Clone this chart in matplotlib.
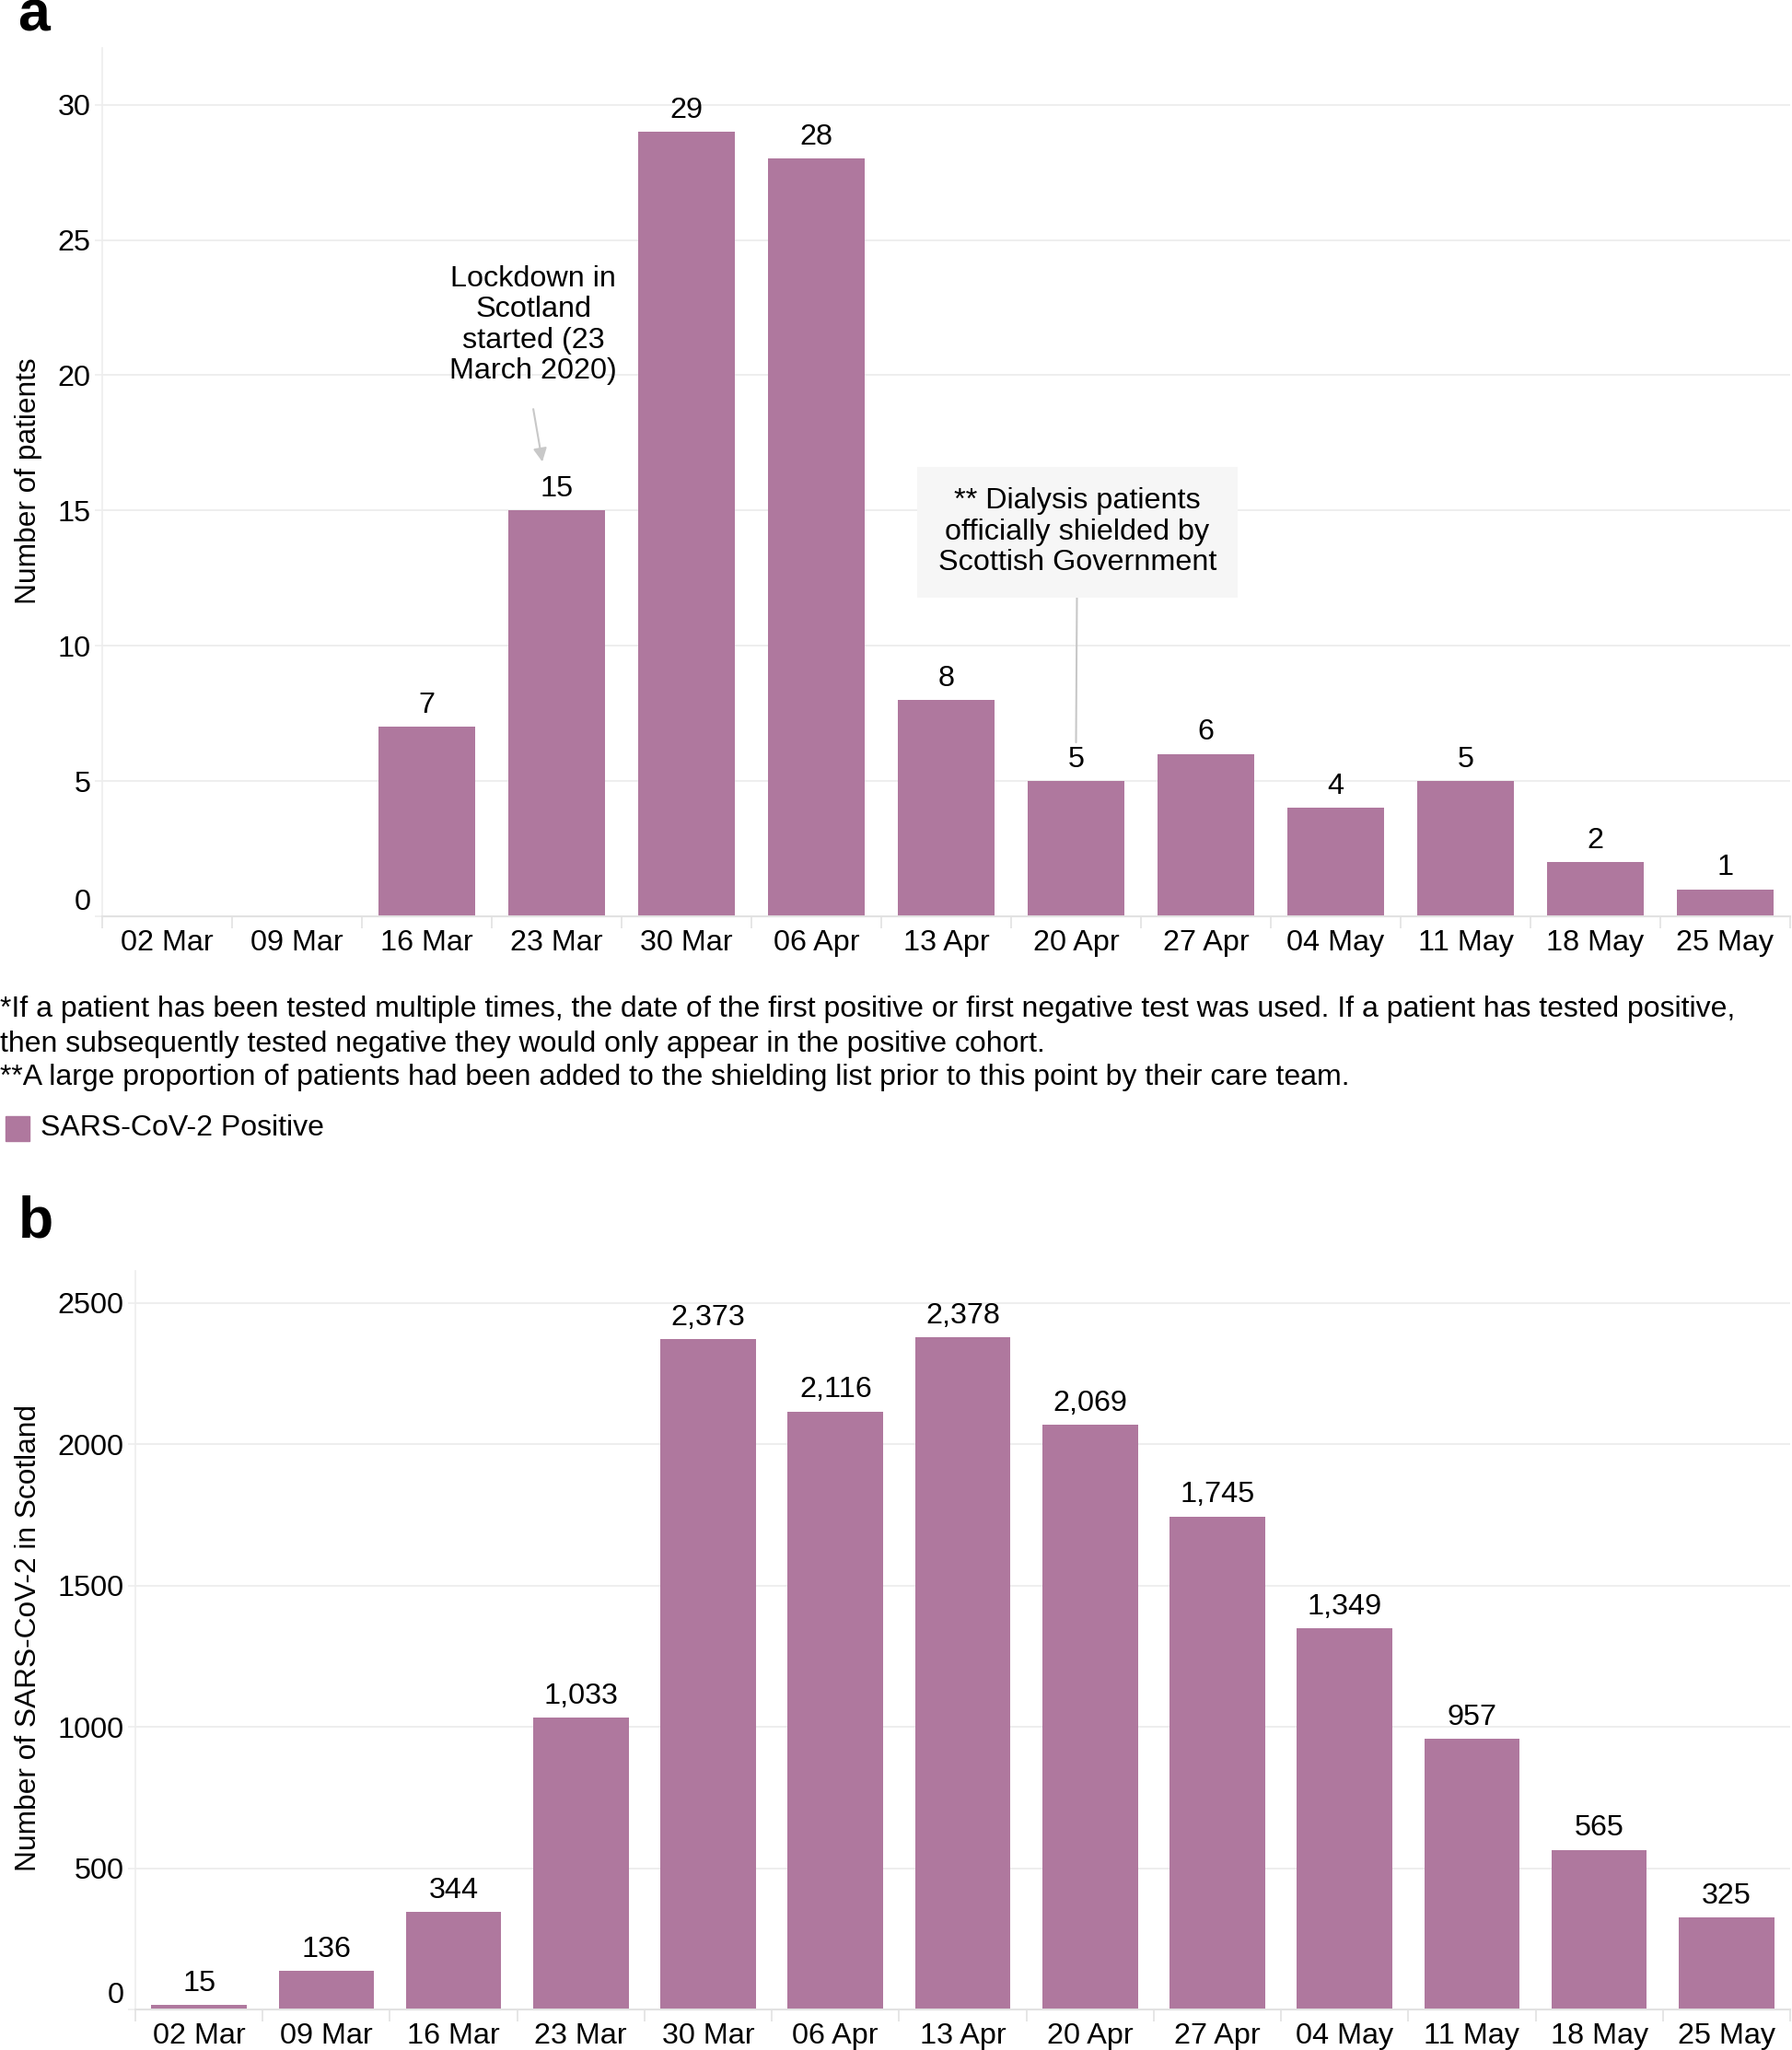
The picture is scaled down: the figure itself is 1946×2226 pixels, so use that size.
import matplotlib
matplotlib.use("Agg")
import matplotlib.pyplot as plt
from matplotlib.transforms import ScaledTranslation

plt.rcParams['font.family'] = ['Liberation Sans', 'DejaVu Sans']

weeks = ["02 Mar", "09 Mar", "16 Mar", "23 Mar", "30 Mar", "06 Apr", "13 Apr",
         "20 Apr", "27 Apr", "04 May", "11 May", "18 May", "25 May"]
patients_positive = [0, 0, 7, 15, 29, 28, 8, 5, 6, 4, 5, 2, 1]
scotland_positive = [15, 136, 344, 1033, 2373, 2116, 2378, 2069, 1745, 1349, 957, 565, 325]
yticks_a = [0, 5, 10, 15, 20, 25, 30]
yticks_b = [0, 500, 1000, 1500, 2000, 2500]

BAR = '#AF789E'
GRID = '#EDEDED'
AXC = '#E2E2E2'
FS = 23.3

W, H = 1946, 2226
fig = plt.figure(figsize=(W / 100, H / 100), dpi=100)


def box(l, t, r, b):
    return [l / W, 1 - b / H, (r - l) / W, (b - t) / H]


def style(ax, ylim, yticks):
    x = list(range(len(weeks)))
    ax.set_xlim(-0.5, len(weeks) - 0.5)
    ax.set_ylim(*ylim)
    ax.set_xticks(x)
    ax.set_xticklabels(weeks, fontsize=FS)
    ax.set_xticks([i - 0.5 for i in range(len(weeks) + 1)], minor=True)
    ax.tick_params(axis='x', which='major', length=0, pad=10)
    ax.tick_params(axis='x', which='minor', length=9, color=AXC, width=1.2)
    ax.set_yticks(yticks)
    ax.set_yticklabels([str(v) for v in yticks], fontsize=FS)
    ax.tick_params(axis='y', length=6, color=GRID, width=1.2, pad=3)
    for s in ['top', 'right']:
        ax.spines[s].set_visible(False)
    ax.spines['left'].set_color(GRID)
    ax.spines['left'].set_linewidth(1.2)
    ax.spines['bottom'].set_color(AXC)
    ax.spines['bottom'].set_linewidth(1.5)
    ax.grid(axis='y', color=GRID, linewidth=1.3)
    ax.set_axisbelow(True)
    # raise the zero label slightly, as in the reference
    lab = ax.yaxis.get_major_ticks()[0].label1
    lab.set_transform(lab.get_transform() + ScaledTranslation(0, 13 / 72, fig.dpi_scale_trans))
    return x


# ---------------- panel a ----------------
axa = fig.add_axes(box(111, 52, 1944, 995))
xa = style(axa, (0, 32.1), yticks_a)
axa.bar(xa, patients_positive, width=0.75, color=BAR)
for xi, v in zip(xa, patients_positive):
    if v > 0:
        axa.annotate(str(v), (xi, v), xytext=(0, 6), textcoords='offset points',
                     ha='center', va='bottom', fontsize=FS)

axa.text(2.82, 21.85, "Lockdown in\nScotland\nstarted (23\nMarch 2020)",
         ha='center', va='center', fontsize=FS, linespacing=1.15)
axa.annotate("", xy=(2.89, 16.8), xytext=(2.82, 18.75), textcoords='data',
             arrowprops=dict(arrowstyle='-|>', color='#C8C8C8', lw=1.5,
                             mutation_scale=22, shrinkA=0, shrinkB=0))

axa.annotate("** Dialysis patients\nofficially shielded by\nScottish Government",
             xy=(7.0, 6.43), xytext=(7.01, 14.2), textcoords='data',
             ha='center', va='center', fontsize=FS, linespacing=1.15,
             bbox=dict(boxstyle='square,pad=0.7', fc='#F6F6F6', ec='none'),
             arrowprops=dict(arrowstyle='-', color='#C8C8C8', lw=1.5,
                             shrinkA=0, shrinkB=0))

fig.text(31 / W, 1 - 522 / H, "Number of patients", rotation=90,
         ha='center', va='center', fontsize=22.8)
fig.text(19 / W, 1 - 33 / H, "a", ha='left', va='baseline', fontsize=45,
         fontweight='bold')

notes = ["*If a patient has been tested multiple times, the date of the first positive or first negative test was used. If a patient has tested positive,",
         "then subsequently tested negative they would only appear in the positive cohort.",
         "**A large proportion of patients had been added to the shielding list prior to this point by their care team."]
for t, y in zip(notes, [1096, 1134, 1170]):
    fig.text(0 / W, 1 - y / H, t, ha='left', va='center', fontsize=23)

fig.patches.append(plt.Rectangle((6 / W, 1 - 1239 / H), 26 / W, 27 / H,
                                 transform=fig.transFigure, color=BAR))
fig.text(44 / W, 1 - 1225 / H, "SARS-CoV-2 Positive", ha='left', va='center',
         fontsize=23)

# ---------------- panel b ----------------
axb = fig.add_axes(box(147, 1380, 1944, 2182))
xb = style(axb, (0, 2614), yticks_b)
axb.bar(xb, scotland_positive, width=0.75, color=BAR)
for xi, v in zip(xb, scotland_positive):
    axb.annotate(f"{v:,}", (xi, v), xytext=(0, 6), textcoords='offset points',
                 ha='center', va='bottom', fontsize=FS)

fig.text(31 / W, 1 - 1779 / H, "Number of SARS-CoV-2 in Scotland", rotation=90,
         ha='center', va='center', fontsize=22.8)
fig.text(20 / W, 1 - 1343 / H, "b", ha='left', va='baseline', fontsize=45,
         fontweight='bold')

fig.savefig("out.png", dpi=100)
